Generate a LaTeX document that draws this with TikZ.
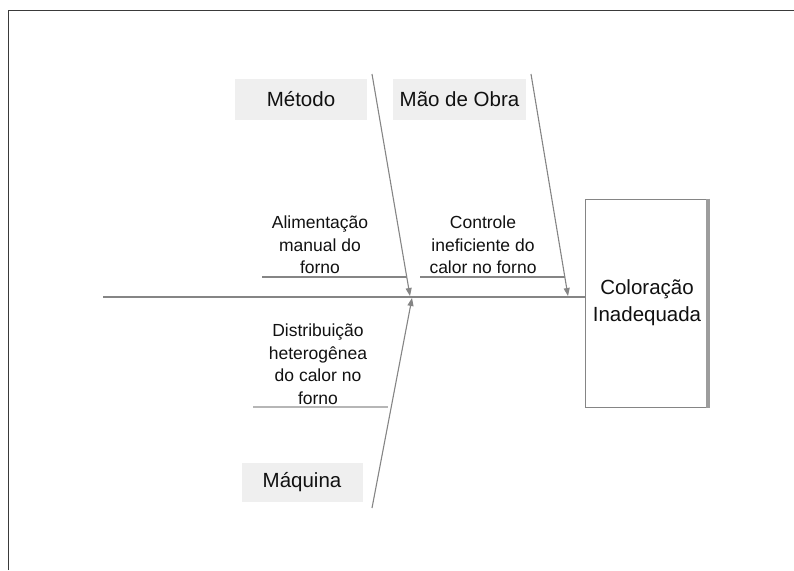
\documentclass[tikz,border=0pt]{standalone}
\usepackage{fontspec}
\setmainfont{Liberation Sans}
\usetikzlibrary{arrows.meta}
\definecolor{linegray}{HTML}{858585}
\definecolor{fillgray}{HTML}{EFEFEF}
\definecolor{txt}{HTML}{111111}
\definecolor{frame}{HTML}{3A3A3A}
\begin{document}
\begin{tikzpicture}[x=1pt,y=-1pt,
  catbox/.style={fill=fillgray, draw=none, text=txt, font=\fontsize{20.5}{22}\selectfont, inner sep=0pt},
  cause/.style={text=txt, align=center, font=\fontsize{17.5}{22.5}\selectfont, inner sep=0pt},
  bone/.style={draw=linegray, line width=1.1pt, -{Triangle[length=8pt,width=6pt]}},
  subline/.style={draw=linegray, line width=1.1pt},
  spine/.style={draw=linegray, line width=1.5pt}]
\useasboundingbox (0,0) rectangle (794,570);
% outer frame (top and left only)
\draw[frame, line width=1pt] (8,570) -- (8,10) -- (794,10);
% effect box
\node[draw=linegray, line width=1pt, fill=white, minimum width=124pt, minimum height=208pt, inner sep=0pt,
      text=txt, align=center, font=\fontsize{20.5}{27}\selectfont] (effect) at (647,303) {Coloração\\Inadequada};
\draw[draw=linegray!80, line width=3.5pt] ([xshift=-1.75pt]effect.north east) -- ([xshift=-1.75pt]effect.south east);
% category labels
\node[catbox, minimum width=132pt, minimum height=41pt] (metodo) at (301,99) {Método};
\node[catbox, minimum width=133pt, minimum height=41pt] (maodeobra) at (459.5,99) {Mão de Obra};
\node[catbox, minimum width=121pt, minimum height=39pt] (maquina) at (302,482.5) {Máquina};
% spine
\coordinate (spine0) at (103,297);
\draw[spine] (spine0) -- (spine0 -| effect.west);
% bones
\coordinate (b1s) at (372,74);
\coordinate (b1e) at (410,296);
\coordinate (b2s) at (531,74);
\coordinate (b2e) at (568,296);
\coordinate (b3s) at (372,508);
\coordinate (b3e) at (412,298);
\draw[bone] (b1s) -- (b1e);
\draw[bone] (b2s) -- (b2e);
\draw[bone] (b3s) -- (b3e);
% causes
\node[cause] (c1) at (320,245) {Alimentação\\manual do\\forno};
\coordinate (c1a) at (262,277);
\coordinate (c1b) at (407,277);
\draw[subline] (c1a) -- (c1b);
\node[cause] (c2) at (483,245) {Controle\\ineficiente do\\calor no forno};
\coordinate (c2a) at (420,277);
\coordinate (c2b) at (565,277);
\draw[subline] (c2a) -- (c2b);
\node[cause] (c3) at (318,364) {Distribuição\\heterogênea\\do calor no\\forno};
\coordinate (c3a) at (253,407);
\coordinate (c3b) at (388,407);
\draw[subline, draw=linegray!60] (c3a) -- (c3b);
\end{tikzpicture}
\end{document}
